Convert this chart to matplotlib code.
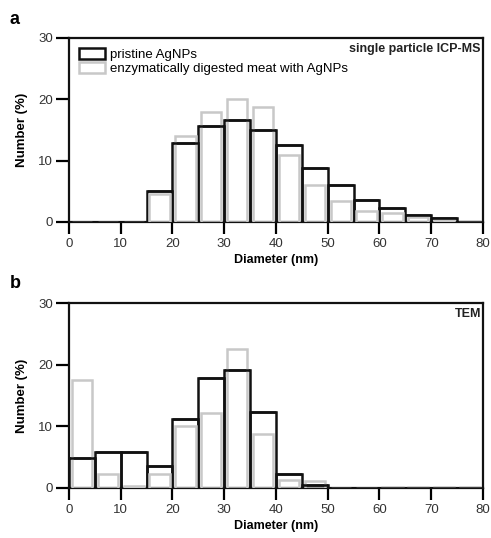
import matplotlib
matplotlib.use("Agg")
import matplotlib.pyplot as plt
from matplotlib.patches import Patch
import numpy as np

plt.rcParams['font.family'] = ['Liberation Sans', 'DejaVu Sans']

# bin edges of 5 nm
bins = np.arange(0, 80, 5)

# panel a: single particle ICP-MS
icp_pristine = [0, 0, 0, 5.0, 12.8, 15.7, 16.6, 15.0, 12.5, 8.8, 6.1, 3.6, 2.2, 1.1, 0.65, 0.05]
icp_meat = [0, 0, 0, 4.6, 14.0, 18.0, 20.0, 18.8, 11.0, 6.1, 3.4, 1.8, 1.4, 0.8, 0.4, 0.2]

# panel b: TEM
tem_pristine = [4.8, 5.9, 5.9, 3.5, 11.2, 17.9, 19.1, 12.4, 2.2, 0.55, 0, 0, 0, 0, 0, 0]
tem_meat = [17.5, 2.2, 0.3, 2.2, 10.1, 12.1, 22.6, 8.7, 1.25, 1.1, 0, 0, 0.15, 0.15, 0.15, 0.15]

black = '#111111'
grey = '#c8c8c8'

fig = plt.figure(figsize=(4.91, 5.38), dpi=100)
ax1 = fig.add_axes([0.1405, 0.5874, 0.8432, 0.342])
ax2 = fig.add_axes([0.1405, 0.093, 0.8432, 0.3438])


def panel(ax, pristine, meat, tag):
    ax.bar(bins, pristine, width=5, align='edge', fill=False,
           edgecolor=black, linewidth=1.8, zorder=2)
    ax.bar(bins + 0.55, meat, width=3.9, align='edge', fill=False,
           edgecolor=grey, linewidth=1.8, zorder=3)
    # black tops drawn over the grey outlines
    ax.hlines(pristine, bins, bins + 5, color=black, linewidth=1.8, zorder=4)
    ax.set_xlim(0, 80)
    ax.set_ylim(0, 30)
    ax.set_xticks(range(0, 81, 10))
    ax.set_yticks([0, 10, 20, 30])
    ax.tick_params(axis='both', direction='out', width=1.6, labelsize=9.5,
                   labelcolor='#333333')
    ax.tick_params(axis='y', length=9.5, pad=2)
    ax.tick_params(axis='x', length=8.5, pad=3)
    for s in ax.spines.values():
        s.set_linewidth(1.6)
        s.set_color(black)
    ax.set_xlabel('Diameter (nm)', fontsize=9, fontweight='bold', labelpad=3)
    ax.set_ylabel('Number (%)', fontsize=9.5, fontweight='bold', labelpad=7)
    ax.text(0.995, 0.975, tag, transform=ax.transAxes, ha='right', va='top',
            fontsize=9, fontweight='bold', color='#222222')


panel(ax1, icp_pristine, icp_meat, 'single particle ICP-MS')
panel(ax2, tem_pristine, tem_meat, 'TEM')

handles = [Patch(facecolor='white', edgecolor=black, linewidth=1.8),
           Patch(facecolor='white', edgecolor=grey, linewidth=1.8)]
ax1.legend(handles, ['pristine AgNPs', 'enzymatically digested meat with AgNPs'],
           loc='upper left', frameon=False, fontsize=9.5, handlelength=2.0,
           handleheight=0.9, handletextpad=0.35, borderaxespad=0.45,
           labelspacing=0.1, borderpad=0.3)

fig.text(0.02, 0.955, 'a', fontsize=13, fontweight='bold')
fig.text(0.02, 0.465, 'b', fontsize=13, fontweight='bold')

fig.savefig('out.png', dpi=100)
